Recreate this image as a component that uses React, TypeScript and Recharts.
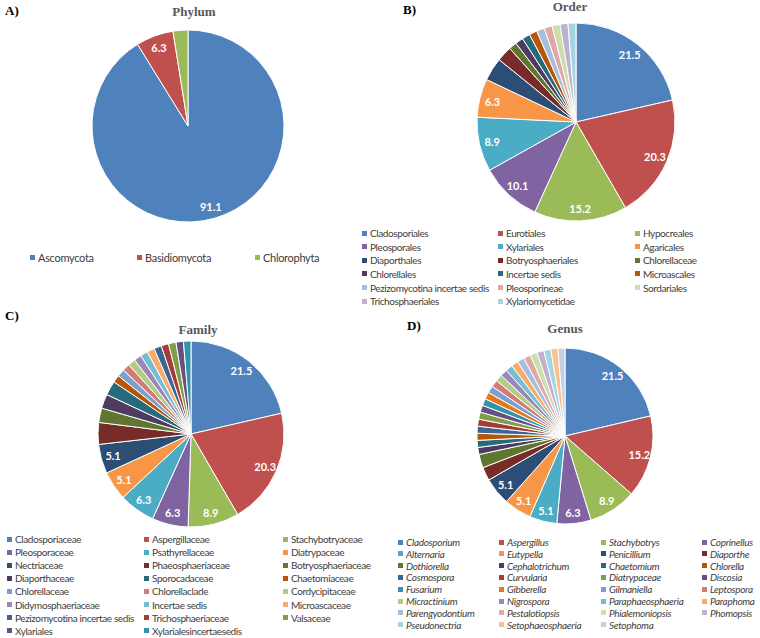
import React from "react"
import { PieChart, Pie, Cell } from "recharts"

// percentages of isolates at each rank
const phylumNames = ["Ascomycota", "Basidiomycota", "Chlorophyta"]
const phylumValues = [91.1, 6.3, 2.5]

const orderNames = [
  "Cladosporiales", "Eurotiales", "Hypocreales",
  "Pleosporales", "Xylariales", "Agaricales",
  "Diaporthales", "Botryosphaeriales", "Chlorellaceae",
  "Chlorellales", "Incertae sedis", "Microascales",
  "Pezizomycotina incertae sedis", "Pleosporineae", "Sordariales",
  "Trichosphaeriales", "Xylariomycetidae"
]
const orderValues = [21.5, 20.3, 15.2, 10.1, 8.9, 6.3, 3.8, 2.5, 1.3, 1.3, 1.3, 1.3, 1.3, 1.3, 1.3, 1.3, 1.3]

const familyNames = [
  "Cladosporiaceae", "Aspergillaceae", "Stachybotryaceae",
  "Pleosporaceae", "Psathyrellaceae", "Diatrypaceae",
  "Nectriaceae", "Phaeosphaeriaceae", "Botryosphaeriaceae",
  "Diaporthaceae", "Sporocadaceae", "Chaetomiaceae",
  "Chlorellaceae", "Chlorellaclade", "Cordycipitaceae",
  "Didymosphaeriaceae", "Incertae sedis", "Microascaceae",
  "Pezizomycotina incertae sedis", "Trichosphaeriaceae", "Valsaceae",
  "Xylariales", "Xylarialesincertaesedis"
]
const familyValues = [21.5, 20.3, 8.9, 6.3, 6.3, 5.1, 5.1, 3.8, 2.5, 2.5, 2.5, 1.3, 1.3, 1.3, 1.3, 1.3, 1.3, 1.3, 1.3, 1.3, 1.3, 1.3, 1.3]

const genusNames = [
  "Cladosporium", "Aspergillus", "Stachybotrys", "Coprinellus",
  "Alternaria", "Eutypella", "Penicillium", "Diaporthe",
  "Dothiorella", "Cephalotrichum", "Chaetomium", "Chlorella",
  "Cosmospora", "Curvularia", "Diatrypaceae", "Discosia",
  "Fusarium", "Gibberella", "Gilmaniella", "Leptospora",
  "Micractinium", "Nigrospora", "Paraphaeosphaeria", "Paraphoma",
  "Parengyodontium", "Pestalotiopsis", "Phialemoniopsis", "Phomopsis",
  "Pseudonectria", "Setophaeosphaeria", "Setophoma"
]
const genusValues = [21.5, 15.2, 8.9, 6.3, 5.1, 5.1, 5.1, 2.5, 2.5, 1.3, 1.3, 1.3, 1.3, 1.3, 1.3, 1.3, 1.3, 1.3, 1.3, 1.3, 1.3, 1.3, 1.3, 1.3, 1.3, 1.3, 1.3, 1.3, 1.3, 1.3, 1.3]

const BASE = ["#4F81BD", "#C0504D", "#9BBB59", "#8064A2", "#4BACC6", "#F79646"]
const DARK = ["#2C4D75", "#772C2A", "#5F7530", "#4D3B62", "#276A7C", "#B65708"]
const MID = ["#3A6596", "#A33D3A", "#7F9E45", "#664F83", "#3393AB", "#E6771D"]
const LIGHT = ["#7BA0CD", "#D07C7A", "#B2CC82", "#9D86B9", "#74BED3", "#F9AB6B"]
const PALE = ["#A7BFDE", "#DFA7A6", "#CDDDAC", "#BFB1D0", "#A5D5E2", "#FAC090"]

const phylumColors = BASE.slice(0, 3)
const orderColors = [...BASE, ...DARK, ...PALE]
const familyColors = [...BASE, ...DARK, ...LIGHT, ...MID]
const genusColors = [...BASE, ...DARK, ...MID, ...LIGHT, ...PALE, "#C6D0E4"]

const toData = (names: string[], values: number[]) =>
  names.map((name, i) => ({ name, value: values[i] }))

const RADIAN = Math.PI / 180

const renderLabel = (props: any) => {
  const { cx, cy, midAngle, outerRadius, value } = props
  if (value < 5) return null
  const r = outerRadius * 0.87
  const x = cx + r * Math.cos(-midAngle * RADIAN)
  const y = cy + r * Math.sin(-midAngle * RADIAN)
  return (
    <text x={x} y={y} fill="#fff" fontSize={11} fontWeight="bold" fontFamily="Lato"
      textAnchor="middle" dominantBaseline="central">
      {value}
    </text>
  )
}

function Legend({ names, colors, cols, y0, gap, fontSize, italic, spacing }: any) {
  return (
    <>
      {names.map((n: string, i: number) => {
        const col = i % cols.length
        const row = Math.floor(i / cols.length)
        const y = y0 + row * gap
        return (
          <div key={n + i} style={{
            position: "absolute", left: cols[col], top: y - 7, height: 14,
            display: "flex", alignItems: "center", whiteSpace: "nowrap"
          }}>
            <span style={{ width: 5, height: 5, background: colors[i], marginRight: 3 }} />
            <span style={{
              fontFamily: "Lato", fontSize, color: "#404040", letterSpacing: spacing,
              fontStyle: italic ? "italic" : "normal"
            }}>{n}</span>
          </div>
        )
      })}
    </>
  )
}

const title = { position: "absolute" as const, fontFamily: "Liberation Serif", fontWeight: "bold", fontSize: 13, color: "#595959", transform: "translate(-50%, -50%)" }
const tag = { position: "absolute" as const, fontFamily: "Liberation Serif", fontWeight: "bold", fontSize: 13, color: "#000", transform: "translateY(-50%)" }

export default function App() {
  const pies = [
    { data: toData(phylumNames, phylumValues), colors: phylumColors, cx: 188, cy: 126, r: 96 },
    { data: toData(orderNames, orderValues), colors: orderColors, cx: 576, cy: 122, r: 99 },
    { data: toData(familyNames, familyValues), colors: familyColors, cx: 191, cy: 434, r: 93 },
    { data: toData(genusNames, genusValues), colors: genusColors, cx: 565, cy: 436, r: 88 }
  ]
  return (
    <div style={{ position: "absolute", left: 0, top: 0, width: 760, height: 638, background: "#fff", overflow: "hidden" }}>
      <div style={{ position: "absolute", left: 0, top: 0 }}>
        <PieChart width={760} height={638} margin={{ top: 0, right: 0, bottom: 0, left: 0 }}>
          {pies.map((p, k) => (
            <Pie key={k} data={p.data} dataKey="value" nameKey="name"
              cx={p.cx} cy={p.cy} outerRadius={p.r}
              startAngle={90} endAngle={-270}
              stroke="#fff" strokeWidth={1}
              label={renderLabel} labelLine={false}
              isAnimationActive={false}>
              {p.data.map((d, i) => <Cell key={d.name} fill={p.colors[i]} />)}
            </Pie>
          ))}
        </PieChart>
      </div>

      <div style={{ ...tag, left: 5, top: 11 }}>A)</div>
      <div style={{ ...title, left: 194, top: 12 }}>Phylum</div>
      <div style={{ ...tag, left: 403, top: 10 }}>B)</div>
      <div style={{ ...title, left: 570, top: 7 }}>Order</div>
      <div style={{ ...tag, left: 5, top: 316 }}>C)</div>
      <div style={{ ...title, left: 198, top: 330 }}>Family</div>
      <div style={{ ...tag, left: 407, top: 326 }}>D)</div>
      <div style={{ ...title, left: 565, top: 329 }}>Genus</div>

      <Legend names={phylumNames} colors={phylumColors} cols={[30, 137, 255]} y0={257} gap={13} fontSize={11} spacing={-0.3} />
      <Legend names={orderNames} colors={orderColors} cols={[362, 498, 635]} y0={233} gap={13.65} fontSize={10} spacing={-0.4} />
      <Legend names={familyNames} colors={familyColors} cols={[7, 144, 283]} y0={539} gap={13.1} fontSize={10} spacing={-0.4} />
      <Legend names={genusNames} colors={genusColors} cols={[398, 499, 601, 702]} y0={542} gap={11.8} fontSize={10} spacing={-0.3} italic />
    </div>
  )
}
